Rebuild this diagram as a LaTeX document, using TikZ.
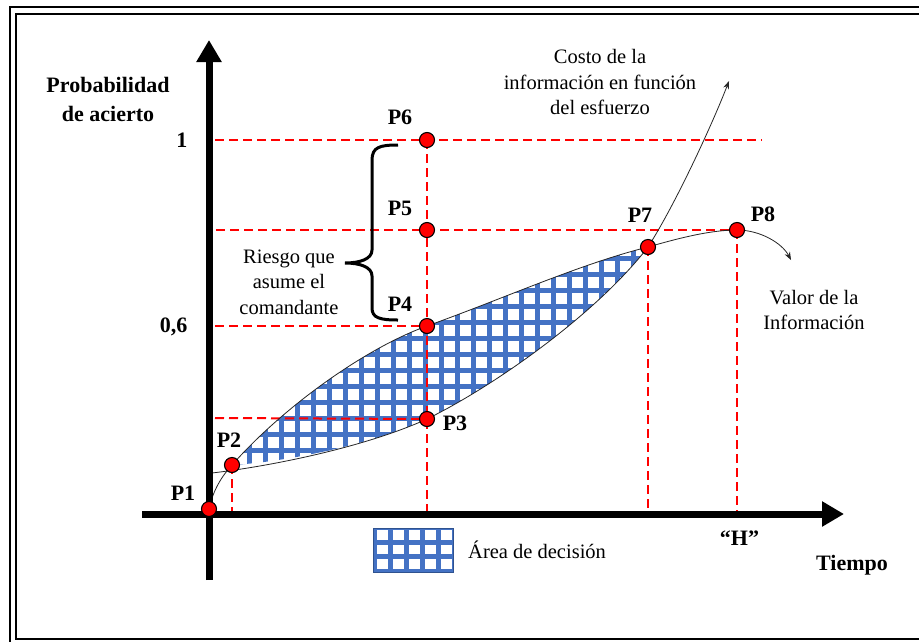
\documentclass[tikz,border=0pt]{standalone}
\usepackage{fontspec}
\setmainfont{Liberation Serif}
\usetikzlibrary{arrows.meta}
\definecolor{hblue}{HTML}{4472C4}
\definecolor{hblued}{HTML}{2F528F}
\begin{document}
\begin{tikzpicture}[x=1pt,y=-1pt,
  rdash/.style={draw=red, line width=2pt, dash pattern=on 9pt off 5pt},
  curve/.style={draw=black!85, line width=0.8pt},
  axisline/.style={line width=7pt, -{Triangle[length=22pt,width=24pt]}},
  pt/.style={circle, fill=red, draw=black, line width=1.1pt, minimum size=15pt, inner sep=0pt},
  lbl/.style={font=\fontsize{22}{29}\selectfont\bfseries, inner sep=0pt},
  txt/.style={font=\fontsize{20.5}{25.5}\selectfont, align=center, inner sep=0pt},
  framebox/.style={draw=black, line width=2.2pt},
  gridline/.style={draw=hblue, line width=5pt}]
\clip (0,0) rectangle (919,641);
\fill[white] (0,0) rectangle (919,641);
% frame
\draw[framebox] (10,7) rectangle (960,680);
\draw[framebox, line width=2.6pt] (16,14) rectangle (950,639);

% key coordinates
\coordinate (p1) at (209,509);
\coordinate (p2) at (232,465);
\coordinate (p3) at (427,419);
\coordinate (p4) at (427,326);
\coordinate (p5) at (427,230);
\coordinate (p6) at (427,140);
\coordinate (p7) at (648,247);
\coordinate (p8) at (737,230);
\coordinate (cs) at (212,473);
\coordinate (cend) at (729,81);
\coordinate (vend) at (791,260);

% decision area
\begin{scope}
\clip (p2) .. controls (285,405) and (368,347) .. (p4)
      .. controls (505,298) and (580,264) .. (p7)
      .. controls (598,312) and (498,384) .. (p3)
      .. controls (370,445) and (285,462) .. (p2) -- cycle;
\foreach \x in {201.7,217.7,...,665.7} \draw[gridline] (\x,200) -- (\x,500);
\foreach \y in {226,242,...,474} \draw[gridline] (190,\y) -- (680,\y);
\end{scope}

% dashed guides
\coordinate (h1a) at (215,140); \coordinate (h1b) at (762,140);
\coordinate (h2a) at (216,230);
\coordinate (h3a) at (215,326);
\coordinate (h4a) at (215,418);
\coordinate (v1b) at (427,511);
\coordinate (v2b) at (232,511);
\coordinate (v3b) at (648,511);
\coordinate (v4b) at (737,511);
\draw[rdash] (h1a) -- (h1b);
\draw[rdash] (h2a) -- (p8);
\draw[rdash] (h3a) -- (p4);
\draw[rdash] (h4a) -- (p3);
\draw[rdash] (p6) -- (v1b);
\draw[rdash] (p2) -- (v2b);
\draw[rdash] (p7) -- (v3b);
\draw[rdash] (p8) -- (v4b);

% value of information curve
\draw[curve, -{Stealth[length=8pt,width=6pt]}] (p1) .. controls (213,490) and (222,476) .. (p2)
  .. controls (285,405) and (368,347) .. (p4)
  .. controls (505,298) and (580,264) .. (p7)
  .. controls (678,238.4) and (710,230) .. (p8)
  .. controls (760,230) and (782,243) .. (vend);
% cost curve
\draw[curve, -{Stealth[length=8pt,width=6pt]}] (cs) .. controls (280,465) and (370,445) .. (p3)
  .. controls (498,384) and (598,312) .. (p7)
  .. controls (675,205) and (712,125) .. (cend);

% brace
\draw[line width=3pt] (398,145) .. controls (380,145) and (372,147) .. (372,160)
  -- (372,250) .. controls (372,259) and (360,263) .. (345,263)
  .. controls (360,263) and (372,267) .. (372,276)
  -- (372,308) .. controls (372,318) and (380,320) .. (398,320);

% axes
\coordinate (yb) at (209,580); \coordinate (yt) at (209,40);
\coordinate (xl) at (142,514); \coordinate (xr) at (844,514);
\draw[axisline] (yb) -- (yt);
\draw[axisline] (xl) -- (xr);

% points
\node[pt] (P1) at (p1) {};
\node[pt] (P2) at (p2) {};
\node[pt] (P3) at (p3) {};
\node[pt] (P4) at (p4) {};
\node[pt] (P5) at (p5) {};
\node[pt] (P6) at (p6) {};
\node[pt] (P7) at (p7) {};
\node[pt] (P8) at (p8) {};

% labels
\node[lbl] (lP1) at (183,493) {P1};
\node[lbl] (lP2) at (229,440) {P2};
\node[lbl] (lP3) at (455,423) {P3};
\node[lbl] (lP4) at (400,304) {P4};
\node[lbl] (lP5) at (400,208) {P5};
\node[lbl] (lP6) at (400,117) {P6};
\node[lbl] (lP7) at (640,215) {P7};
\node[lbl] (lP8) at (763,214) {P8};
\node[lbl, anchor=base east] (l1) at (187.5,147) {1};
\node[lbl, anchor=base east] (l06) at (187.5,332) {0,6};
\node[lbl, align=center] (ylab) at (108,99) {Probabilidad\\de acierto};
\node[lbl, anchor=base] (lH) at (739.5,545) {“H”};
\node[lbl, anchor=base] (xlab) at (852,570) {Tiempo};
\node[txt] (cost) at (600,82) {Costo de la\\información en función\\del esfuerzo};
\node[txt] (val) at (814,310) {Valor de la\\Información};
\node[txt] (risk) at (289,282) {Riesgo que\\asume el\\comandante};

% legend
\fill[hblue] (373,528) rectangle (453,572);
\foreach \i in {0,...,4}
  \foreach \j in {0,1,2}
    \fill[white] ({376.5+16*\i},{530+14.5*\j}) rectangle ++(11.5,9.5);
\draw[hblued, line width=1pt] (373,528) rectangle (453,572);
\node[txt, anchor=base west] (leg) at (468,558) {Área de decisión};
\end{tikzpicture}
\end{document}
